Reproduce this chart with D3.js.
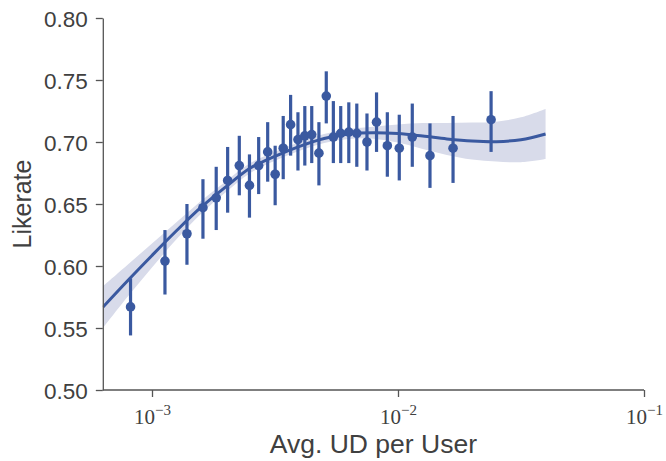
<!DOCTYPE html>
<html>
<head>
<meta charset="utf-8">
<script src="https://cdn.jsdelivr.net/npm/d3@7"></script>
<style>
  html, body { margin: 0; padding: 0; background: #fff; }
  svg { display: block; }
</style>
</head>
<body>
<svg id="chart" width="666" height="461"></svg>
<script>
// Binned means of like rate by average UD per user, with 95% CI bars
const binX = [8.18e-4, 1.129e-3, 1.387e-3, 1.611e-3, 1.824e-3, 2.03e-3, 2.264e-3, 2.49e-3,
  2.714e-3, 2.953e-3, 3.167e-3, 3.415e-3, 3.66e-3, 3.92e-3, 4.18e-3, 4.46e-3, 4.77e-3,
  5.11e-3, 5.46e-3, 5.85e-3, 6.31e-3, 6.80e-3, 7.48e-3, 8.18e-3, 9.05e-3, 1.012e-2,
  1.143e-2, 1.349e-2, 1.674e-2, 2.39e-2];
const binMean = [0.567, 0.604, 0.626, 0.647, 0.655, 0.669, 0.681, 0.665, 0.681, 0.692,
  0.674, 0.695, 0.714, 0.702, 0.705, 0.706, 0.691, 0.737, 0.704, 0.707, 0.708, 0.707,
  0.700, 0.716, 0.697, 0.695, 0.704, 0.689, 0.695, 0.718];
const binLow = [0.544, 0.577, 0.601, 0.622, 0.629, 0.643, 0.657, 0.639, 0.658, 0.668,
  0.649, 0.670, 0.689, 0.677, 0.681, 0.683, 0.665, 0.715, 0.683, 0.683, 0.683, 0.680,
  0.677, 0.692, 0.672, 0.669, 0.680, 0.663, 0.667, 0.692];
const binHigh = [0.590, 0.629, 0.650, 0.670, 0.680, 0.696, 0.705, 0.690, 0.704, 0.716,
  0.697, 0.721, 0.738, 0.724, 0.729, 0.729, 0.716, 0.757, 0.733, 0.729, 0.732, 0.731,
  0.723, 0.740, 0.724, 0.722, 0.731, 0.715, 0.721, 0.741];

// Smooth regression fit and its confidence band
const fitX = [6.31e-4, 7.94e-4, 1.0e-3, 1.26e-3, 1.58e-3, 2.0e-3, 2.51e-3, 3.16e-3, 3.98e-3,
  5.01e-3, 6.31e-3, 7.94e-3, 1.0e-2, 1.26e-2, 1.58e-2, 2.0e-2, 2.51e-2, 3.16e-2, 3.98e-2];
const fitY = [0.5667, 0.5879, 0.6085, 0.6286, 0.6472, 0.6640, 0.6790, 0.6885, 0.6965, 0.7028,
  0.7065, 0.7075, 0.7068, 0.7048, 0.7025, 0.7008, 0.7003, 0.7018, 0.7065];
const fitLow = [0.5498, 0.5750, 0.5988, 0.6217, 0.6420, 0.6596, 0.6750, 0.6849, 0.6929, 0.6992,
  0.7025, 0.7027, 0.6995, 0.6943, 0.6896, 0.6859, 0.6842, 0.6837, 0.6863];
const fitHigh = [0.5836, 0.6008, 0.6182, 0.6355, 0.6524, 0.6684, 0.6830, 0.6921, 0.7001, 0.7064,
  0.7105, 0.7123, 0.7141, 0.7153, 0.7154, 0.7157, 0.7164, 0.7199, 0.7267];

const yTicks = [0.50, 0.55, 0.60, 0.65, 0.70, 0.75, 0.80];
const xTicks = [1e-3, 1e-2, 1e-1];
const xTickExp = ["\u22123", "\u22122", "\u22121"];

const xLabel = "Avg. UD per User";
const yLabel = "Likerate";

const color = "#3a59a0";
const bandColor = "#d8dbea";
const axisColor = "#555";
const textColor = "#404040";

const svg = d3.select("#chart");
const plotLeft = 102.8, plotRight = 644, plotTop = 18, plotBottom = 390;

const x = d3.scaleLog().domain([Math.pow(10, -3.2), 0.1]).range([plotLeft, plotRight]);
const y = d3.scaleLinear().domain([0.5, 0.8]).range([plotBottom, plotTop]);

svg.append("defs").append("clipPath").attr("id", "plotArea")
  .append("rect").attr("x", plotLeft).attr("y", plotTop)
  .attr("width", plotRight - plotLeft).attr("height", plotBottom - plotTop);

const plot = svg.append("g");

const fit = fitX.map((v, i) => ({x: v, y: fitY[i], lo: fitLow[i], hi: fitHigh[i]}));

// confidence band
plot.append("path")
  .datum(fit)
  .attr("clip-path", "url(#plotArea)")
  .attr("fill", bandColor)
  .attr("d", d3.area()
    .x(d => x(d.x)).y0(d => y(d.lo)).y1(d => y(d.hi))
    .curve(d3.curveCatmullRom));

// regression line
plot.append("path")
  .datum(fit)
  .attr("clip-path", "url(#plotArea)")
  .attr("fill", "none")
  .attr("stroke", color)
  .attr("stroke-width", 3)
  .attr("d", d3.line().x(d => x(d.x)).y(d => y(d.y)).curve(d3.curveCatmullRom));

const bins = binX.map((v, i) => ({x: v, m: binMean[i], lo: binLow[i], hi: binHigh[i]}));

// CI bars
plot.selectAll("line.err").data(bins).join("line")
  .attr("class", "err")
  .attr("x1", d => x(d.x)).attr("x2", d => x(d.x))
  .attr("y1", d => y(d.lo)).attr("y2", d => y(d.hi))
  .attr("stroke", color).attr("stroke-width", 3.2);

// bin means
plot.selectAll("circle.pt").data(bins).join("circle")
  .attr("class", "pt")
  .attr("cx", d => x(d.x)).attr("cy", d => y(d.m))
  .attr("r", 4.8)
  .attr("fill", color);

// y axis
const yAxis = svg.append("g")
  .attr("transform", `translate(${plotLeft},0)`)
  .call(d3.axisLeft(y).tickValues(yTicks).tickFormat(d3.format(".2f"))
    .tickSize(7).tickSizeOuter(0).tickPadding(8));
yAxis.select(".domain").attr("stroke", axisColor).attr("stroke-width", 1.3);
yAxis.selectAll(".tick line").attr("stroke", axisColor).attr("stroke-width", 1.3);
yAxis.selectAll(".tick text")
  .attr("fill", textColor)
  .style("font-family", "'Liberation Sans', Arial, sans-serif")
  .style("font-size", "22.5px")
  .attr("dy", "0.36em");

// x axis with power-of-ten labels
const xAxis = svg.append("g")
  .attr("transform", `translate(0,${plotBottom})`)
  .call(d3.axisBottom(x).tickValues(xTicks).tickFormat(() => "")
    .tickSize(7).tickSizeOuter(0).tickPadding(8));
xAxis.select(".domain").attr("stroke", axisColor).attr("stroke-width", 1.3)
  .attr("d", `M${plotLeft},0H${plotRight}`);
xAxis.selectAll(".tick line").attr("stroke", axisColor).attr("stroke-width", 1.3);
xAxis.selectAll(".tick text").each(function(d, i) {
  const t = d3.select(this)
    .attr("fill", textColor)
    .attr("y", 34)
    .attr("dy", null)
    .style("font-family", "'Liberation Serif', 'DejaVu Serif', serif")
    .style("font-size", "21px")
    .attr("text-anchor", "middle");
  t.append("tspan").text("10");
  t.append("tspan").attr("dy", -9).style("font-size", "15px").text(xTickExp[i]);
});

// axis titles
svg.append("text")
  .attr("x", (plotLeft + plotRight) / 2)
  .attr("y", 453)
  .attr("text-anchor", "middle")
  .attr("fill", textColor)
  .style("font-family", "'Liberation Sans', Arial, sans-serif")
  .style("font-size", "26.5px")
  .text(xLabel);

svg.append("text")
  .attr("transform", `translate(31,${(plotTop + plotBottom) / 2}) rotate(-90)`)
  .attr("text-anchor", "middle")
  .attr("fill", textColor)
  .style("font-family", "'Liberation Sans', Arial, sans-serif")
  .style("font-size", "25px")
  .text(yLabel);
</script>
</body>
</html>
